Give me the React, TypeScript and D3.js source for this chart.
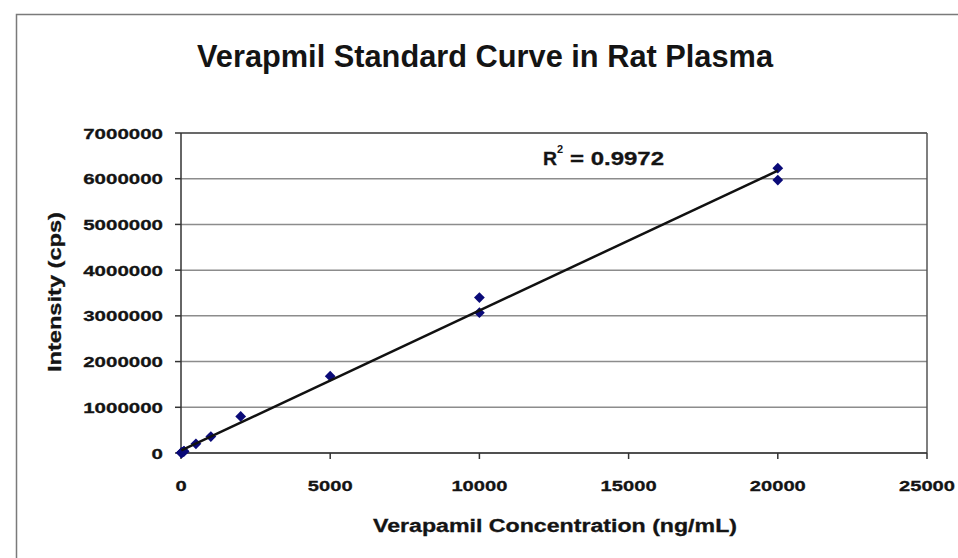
import React from "react";
import * as d3 from "d3";

const W = 958;
const H = 558;

const chartTitle = "Verapmil Standard Curve in Rat Plasma";
const xAxisTitle = "Verapamil Concentration (ng/mL)";
const yAxisTitle = "Intensity (cps)";
const rSquaredLabel = "0.9972";

const xTicks = [0, 5000, 10000, 15000, 20000, 25000];
const yTicks = [0, 1000000, 2000000, 3000000, 4000000, 5000000, 6000000, 7000000];

const concentrations = [10, 10, 50, 50, 100, 100, 500, 1000, 2000, 5000, 10000, 10000, 20000, 20000];
const intensities = [5000, 7000, 16000, 20000, 35000, 40000, 200000, 360000, 800000, 1680000, 3400000, 3070000, 6230000, 5970000];

const margin = { left: 181, top: 133, right: W - 927, bottom: H - 453 };

export default function App() {
  const x = d3.scaleLinear().domain([0, 25000]).range([margin.left, W - margin.right]);
  const y = d3.scaleLinear().domain([0, 7000000]).range([H - margin.bottom, margin.top]);

  const pts = concentrations.map((c, i) => ({ c, v: intensities[i] }));
  const mx = d3.mean(pts, (p) => p.c) as number;
  const my = d3.mean(pts, (p) => p.v) as number;
  const sxy = d3.sum(pts, (p) => (p.c - mx) * (p.v - my));
  const sxx = d3.sum(pts, (p) => (p.c - mx) * (p.c - mx));
  const slope = sxy / sxx;
  const intercept = my - slope * mx;
  const [xmin, xmax] = d3.extent(concentrations) as [number, number];
  const trend = d3
    .line<number>()
    .x((c) => x(c))
    .y((c) => y(intercept + slope * c))([xmin, xmax]);

  const marker = d3.symbol().type(d3.symbolSquare).size(58)();

  const font = "'Liberation Sans', Arial, sans-serif";
  const txt = "#141414";
  const x0 = x(0);
  const y0 = y(0);

  return (
    <svg
      width={W}
      height={H}
      style={{ position: "fixed", left: 0, top: 0, background: "#fff" }}
      fontFamily={font}
    >
      <rect x={0} y={0} width={W} height={H} fill="#fff" />
      <rect x={16.5} y={14.5} width={1200} height={800} fill="none" stroke="#7a7a7a" strokeWidth={1.5} />

      <text
        x={485}
        y={67}
        textAnchor="middle"
        fontSize={31}
        fontWeight="bold"
        fill={txt}
        textLength={576}
        lengthAdjust="spacingAndGlyphs"
      >
        {chartTitle}
      </text>

      {/* gridlines */}
      {yTicks.map((t) => (
        <line key={"g" + t} x1={x0} x2={x(25000)} y1={y(t)} y2={y(t)} stroke="#8c8c8c" strokeWidth={1.5} />
      ))}
      {/* plot frame */}
      <line x1={x(25000)} x2={x(25000)} y1={y(7000000)} y2={y0} stroke="#555" strokeWidth={1.5} />
      <line x1={x0} x2={x(25000)} y1={y(7000000)} y2={y(7000000)} stroke="#555" strokeWidth={1.5} />
      {/* axes */}
      <line x1={x0} x2={x0} y1={y(7000000)} y2={y0} stroke="#333" strokeWidth={1.5} />
      <line x1={x0} x2={x(25000)} y1={y0} y2={y0} stroke="#333" strokeWidth={1.5} />

      {yTicks.map((t) => {
        const s = String(t);
        return (
          <g key={"y" + t}>
            <line x1={x0 - 6} x2={x0} y1={y(t)} y2={y(t)} stroke="#333" strokeWidth={1.5} />
            <text
              x={163}
              y={y(t) + 5.5}
              textAnchor="end"
              fontSize={15.5}
              fontWeight="bold"
              fill={txt}
              stroke={txt}
              strokeWidth={0.3}
              textLength={s.length * 11.4}
              lengthAdjust="spacingAndGlyphs"
            >
              {s}
            </text>
          </g>
        );
      })}

      {xTicks.map((t) => {
        const s = String(t);
        return (
          <g key={"x" + t}>
            <line x1={x(t)} x2={x(t)} y1={y0} y2={y0 + 6} stroke="#333" strokeWidth={1.5} />
            <text
              x={x(t)}
              y={491}
              textAnchor="middle"
              fontSize={15.5}
              fontWeight="bold"
              fill={txt}
              stroke={txt}
              strokeWidth={0.3}
              textLength={s.length * 11.2}
              lengthAdjust="spacingAndGlyphs"
            >
              {s}
            </text>
          </g>
        );
      })}

      <text
        x={555}
        y={532}
        textAnchor="middle"
        fontSize={18}
        fontWeight="bold"
        fill={txt}
        stroke={txt}
        strokeWidth={0.3}
        textLength={364}
        lengthAdjust="spacingAndGlyphs"
      >
        {xAxisTitle}
      </text>

      <text
        transform={`translate(61,292) rotate(-90)`}
        textAnchor="middle"
        fontSize={18}
        fontWeight="bold"
        fill={txt}
        stroke={txt}
        strokeWidth={0.3}
        textLength={160}
        lengthAdjust="spacingAndGlyphs"
      >
        {yAxisTitle}
      </text>

      {/* data markers */}
      {pts.map((p, i) => (
        <path
          key={"p" + i}
          d={marker as string}
          transform={`translate(${x(p.c)},${y(p.v)}) rotate(45)`}
          fill="#0a0a78"
        />
      ))}

      {/* trendline */}
      <path d={trend as string} fill="none" stroke="#111" strokeWidth={2.5} />

      {/* R squared */}
      <text x={543} y={165} fontSize={18} fontWeight="bold" fill={txt} stroke={txt} strokeWidth={0.3} textLength={14} lengthAdjust="spacingAndGlyphs">
        R
      </text>
      <text x={557} y={153} fontSize={11} fontWeight="bold" fill={txt}>
        2
      </text>
      <text
        x={570}
        y={165}
        fontSize={18}
        fontWeight="bold"
        fill={txt}
        stroke={txt}
        strokeWidth={0.3}
        textLength={94}
        lengthAdjust="spacingAndGlyphs"
      >
        {"= " + rSquaredLabel}
      </text>
    </svg>
  );
}
